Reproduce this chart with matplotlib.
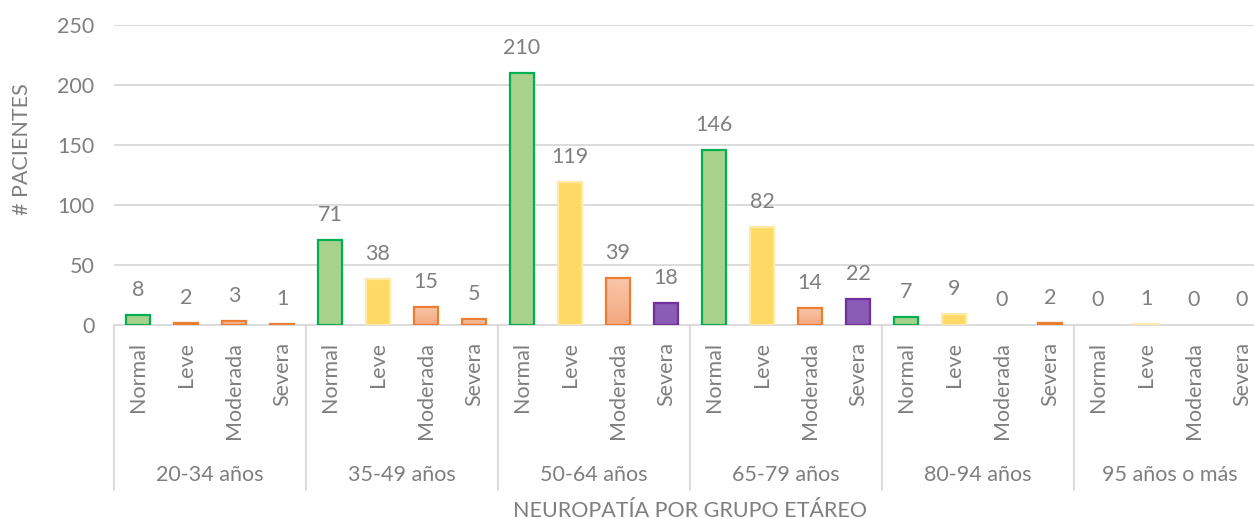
import numpy as np
import matplotlib.pyplot as plt
from matplotlib.lines import Line2D
from matplotlib.colors import LinearSegmentedColormap

plt.rcParams['font.family'] = ['Lato', 'DejaVu Sans']

# datos por grupo etáreo
grupos = ["20-34 años", "35-49 años", "50-64 años", "65-79 años", "80-94 años", "95 años o más"]
niveles = ["Normal", "Leve", "Moderada", "Severa"]
valores = [
    [8, 2, 3, 1],
    [71, 38, 15, 5],
    [210, 119, 39, 18],
    [146, 82, 14, 22],
    [7, 9, 0, 2],
    [0, 1, 0, 0],
]
# estilo de cada barra (n = normal, l = leve, m = moderada, s = severa)
estilos = [
    ["n", "m", "m", "m"],
    ["n", "l", "m", "m"],
    ["n", "l", "m", "s"],
    ["n", "l", "m", "s"],
    ["n", "l", "m", "m"],
    ["n", "l", "m", "m"],
]

colores = {
    "n": ("#a9d18e", "#00b050"),
    "l": ("#ffd966", "#ffe9a8"),
    "m": ("#f6b898", "#ed7d31"),
    "s": ("#8c5bb5", "#7030a0"),
}
gris = "#7f7f7f"
fs = 15.5

fig = plt.figure(figsize=(12.54, 5.19), dpi=100)
W, H = 1254, 519
x0, x1, ytop, ybot = 114, 1266, 25, 325
ax = fig.add_axes([x0 / W, (H - ybot) / H, (x1 - x0) / W, (ybot - ytop) / H])

cmap_mod = LinearSegmentedColormap.from_list("mod", ["#f8c6aa", "#f4a880"])

n = len(niveles)
ancho = 0.52
for g, fila in enumerate(valores):
    for k, v in enumerate(fila):
        x = g * n + k
        fc, ec = colores[estilos[g][k]]
        if v > 0:
            if estilos[g][k] == "m":
                # relleno degradado para moderada (claro arriba, más intenso abajo)
                rect = ax.bar(x, v, ancho, color="none", edgecolor=ec, linewidth=1.6, zorder=4)[0]
                grad = np.linspace(0, 1, 64).reshape(-1, 1)
                img = ax.imshow(grad, cmap=cmap_mod, origin="upper",
                                extent=(x - ancho / 2, x + ancho / 2, 0, v),
                                aspect="auto", zorder=3)
                img.set_clip_path(rect)
            else:
                ax.bar(x, v, ancho, color=fc, edgecolor=ec, linewidth=1.6, zorder=3)
        ax.annotate(str(v), (x, v), xytext=(0, 18), textcoords="offset points",
                    ha="center", va="center", color=gris, fontsize=fs)

ax.set_xlim(-0.5, len(grupos) * n - 0.5)
ax.set_ylim(0, 250)
ax.set_yticks(np.arange(0, 251, 50))
ax.grid(axis="y", color="#d9d9d9", linewidth=1.3, zorder=0)
ax.set_axisbelow(True)
for s in ["top", "right", "left"]:
    ax.spines[s].set_visible(False)
ax.spines["bottom"].set_color("#d9d9d9")
ax.spines["bottom"].set_linewidth(1.3)
ax.tick_params(axis="y", length=0, labelsize=fs, labelcolor=gris, pad=14)
ax.set_xticks([])

# eje de categorías en dos niveles
trans = ax.get_xaxis_transform()
alto = ybot - ytop
for g, nombre in enumerate(grupos):
    for k, nivel in enumerate(niveles):
        ax.text(g * n + k, -17 / alto, nivel, rotation=90, ha="center", va="top",
                transform=trans, color=gris, fontsize=fs)
    ax.text(g * n + (n - 1) / 2, -150 / alto, nombre, ha="center", va="center",
            transform=trans, color=gris, fontsize=fs)
for g in range(len(grupos) + 1):
    ax.add_line(Line2D([g * n - 0.5] * 2, [0, -165 / alto], transform=trans,
                       color="#d9d9d9", linewidth=1.3, clip_on=False))

fig.text(690 / W, 1 - 511 / H, "NEUROPATÍA POR GRUPO ETÁREO", ha="center", va="center",
         color=gris, fontsize=fs)
fig.text(22 / W, 1 - 149 / H, "# PACIENTES", rotation=90, ha="center", va="center",
         color=gris, fontsize=fs)

fig.savefig("out.png", dpi=100)
